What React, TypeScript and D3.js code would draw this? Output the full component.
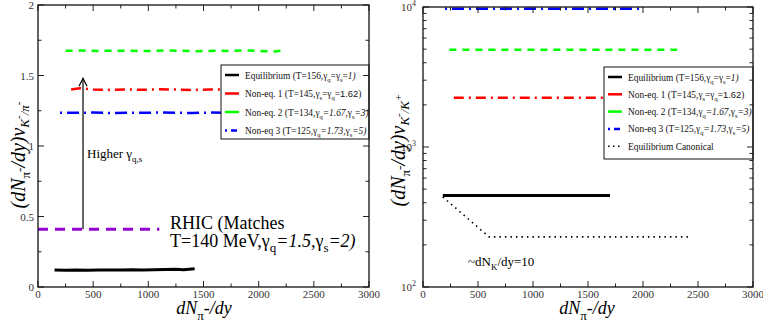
import React from 'react';
import * as d3 from 'd3';

const SERIF = '"Liberation Serif", "DejaVu Serif", serif';
const SANS = '"Liberation Sans", Arial, sans-serif';

// left panel: (dN/dy) * nu_{K-/pi-}
const eqLx = [150, 250, 350, 450, 550, 650, 750, 850, 950, 1050, 1150, 1250, 1320, 1420];
const eqLy = [0.121, 0.119, 0.12, 0.119, 0.121, 0.12, 0.121, 0.122, 0.121, 0.123, 0.124, 0.125, 0.123, 0.129];
const neq1Lx = [300, 380, 500, 650, 800, 950, 1100, 1250, 1400, 1550, 1700, 1850, 2000];
const neq1Ly = [1.4, 1.41, 1.4, 1.398, 1.401, 1.399, 1.402, 1.4, 1.397, 1.401, 1.4, 1.399, 1.4];
const neq2Lx = [250, 400, 550, 700, 850, 1000, 1150, 1300, 1450, 1600, 1750, 1900, 2050, 2150, 2250];
const neq2Ly = [1.675, 1.677, 1.674, 1.676, 1.675, 1.673, 1.677, 1.675, 1.672, 1.676, 1.674, 1.678, 1.672, 1.67, 1.68];
const neq3Lx = [200, 350, 500, 650, 800, 950, 1100, 1250, 1400, 1550, 1700, 1850, 2000];
const neq3Ly = [1.236, 1.235, 1.237, 1.234, 1.236, 1.235, 1.238, 1.236, 1.234, 1.237, 1.235, 1.236, 1.235];
const rhicX = [0, 1100];
const rhicY = [0.41, 0.41];
const arrowX = [408, 408];
const arrowY = [0.41, 1.48];

// right panel: (dN/dy) * nu_{K-/K+}
const eqRx = [180, 1700];
const eqRy = [450, 450];
const neq1Rx = [280, 2000];
const neq1Ry = [2250, 2250];
const neq2Rx = [240, 2310];
const neq2Ry = [4950, 4950];
const neq3Rx = [200, 2000];
const neq3Ry = [9700, 9700];
const canonRx = [180, 600, 2430];
const canonRy = [440, 228, 228];

const xMajor = [0, 500, 1000, 1500, 2000, 2500, 3000];
const xMinor = [250, 750, 1250, 1750, 2250, 2750];
const yLMajor = [0, 0.5, 1, 1.5, 2];
const yLLabels = ['0', '0.5', '1', '1.5', '2'];
const yLMinor = [0.25, 0.75, 1.25, 1.75];
const yRMajor = [100, 1000, 10000];
const yRExp = ['2', '3', '4'];

const xL = d3.scaleLinear().domain([0, 3000]).range([38, 369]);
const yL = d3.scaleLinear().domain([0, 2]).range([287, 5]);
const xR = d3.scaleLinear().domain([0, 3000]).range([423, 753]);
const yR = d3.scaleLog().domain([100, 10000]).range([287, 7]);
const yRMinor = yR.ticks().filter(v => !yRMajor.includes(v));

const path = (xs: number[], ys: number[], x: any, y: any) =>
  d3.line<number>().x((_, i) => x(xs[i])).y((_, i) => y(ys[i]))(xs) || '';

// segments: [text, kind] where kind: '' normal, 's' subscript, 'i' italic, 'f' sans
type Seg = [string, string?];
const Rich = ({ segs, sub = 7, d = 3 }: { segs: Seg[]; sub?: number; d?: number }) => (
  <>
    {segs.map(([t, k], i) => {
      const prevSub = i > 0 && segs[i - 1][1] === 's';
      const isSub = k === 's';
      const dy = (isSub ? d : 0) - (prevSub ? d : 0);
      return (
        <tspan key={i} dy={dy || undefined} fontSize={isSub ? sub : undefined}
          fontStyle={k === 'i' ? 'italic' : undefined} fontFamily={k === 'f' ? SANS : undefined}>{t}</tspan>
      );
    })}
  </>
);

const Frame = ({ x, y, yMaj, yMin }: any) => {
  const [x0, x1] = x.range();
  const [y0, y1] = y.range();
  const t: JSX.Element[] = [];
  const add = (k: string, a: number, b: number, c: number, d: number) =>
    t.push(<line key={k} x1={a} y1={b} x2={c} y2={d} stroke="#222" strokeWidth={1} />);
  xMajor.forEach(v => { add('xb' + v, x(v), y0, x(v), y0 - 6); add('xt' + v, x(v), y1, x(v), y1 + 6); });
  xMinor.forEach(v => { add('mb' + v, x(v), y0, x(v), y0 - 3.5); add('mt' + v, x(v), y1, x(v), y1 + 3.5); });
  yMaj.forEach((v: number) => { add('yl' + v, x0, y(v), x0 + 6, y(v)); add('yr' + v, x1, y(v), x1 - 6, y(v)); });
  yMin.forEach((v: number) => { add('ml' + v, x0, y(v), x0 + 3.5, y(v)); add('mr' + v, x1, y(v), x1 - 3.5, y(v)); });
  return (
    <g>
      {t}
      <rect x={x0} y={y1} width={x1 - x0} height={y0 - y1} fill="none" stroke="#111" strokeWidth={1.3} />
      {xMajor.map(v => (
        <text key={v} x={x(v)} y={297.5} textAnchor="middle" fontSize={11} fontFamily={SERIF} fill="#333">{v}</text>
      ))}
    </g>
  );
};

const legendRows: { color: string; dash: string; width?: number; segs: Seg[] }[] = [
  { color: '#000', dash: '', segs: [['Equilibrium (T=156,γ'], ['q', 's'], ['=γ'], ['s', 's'], ['='], ['1)', 'i']] },
  { color: '#f00', dash: '', segs: [['Non-eq. 1 (T=145,γ'], ['s', 's'], ['=γ'], ['q', 's'], ['='], ['1.62', 'f'], [')']] },
  { color: '#0f0', dash: '', segs: [['Non-eq. 2 (T=134,γ'], ['q', 's'], ['=1.67,', 'i'], ['γ'], ['s', 's'], ['=3)', 'i']] },
  { color: '#00f', dash: '2,4,6,2', segs: [['Non-eq 3 (T=125,γ'], ['q', 's'], ['=1.73,', 'i'], ['γ'], ['s', 's'], ['=5)', 'i']] },
];

const Legend = ({ x, y, w, h, rows, step }: any) => (
  <g>
    <rect x={x} y={y} width={w} height={h} fill="#fff" stroke="#111" strokeWidth={1} />
    {rows.map((r: any, i: number) => (
      <g key={i}>
        <line x1={x + 4} x2={x + 18} y1={y + 10 + i * step} y2={y + 10 + i * step}
          stroke={r.color} strokeWidth={r.width || 2.5} strokeDasharray={r.dash} />
        <text x={x + 24} y={y + 13.5 + i * step} fontSize={9.4} fontFamily={SERIF} fill="#111">
          <Rich segs={r.segs} sub={6.5} />
        </text>
      </g>
    ))}
  </g>
);

const YTitle = ({ x, y, den, sign }: any) => (
  <text transform={`translate(${x},${y}) rotate(-90)`} textAnchor="middle" fontSize={20}
    fontFamily={SERIF} fontStyle="italic">
    (dN<tspan dy={5} fontSize={13} fontStyle="normal">π</tspan>
    <tspan dy={-6} fontSize={13}>-</tspan>
    <tspan dy={1}>/dy)ν</tspan>
    <tspan dy={4} fontSize={13}>K</tspan>
    <tspan dy={-7} fontSize={11}>-</tspan>
    <tspan dy={7} fontSize={13}>/{den}</tspan>
    <tspan dy={-7} fontSize={11}>{sign}</tspan>
  </text>
);

const XTitle = ({ x }: any) => (
  <text x={x} y={313.5} textAnchor="middle" fontSize={18} fontFamily={SERIF} fontStyle="italic">
    dN<tspan dy={6} fontSize={13} fontStyle="normal">π</tspan>
    <tspan dy={-6}>-/dy</tspan>
  </text>
);

const App = () => {
  return (
    <svg width={763} height={328} style={{ position: 'absolute', left: 0, top: 0, background: '#fff' }}>
      {/* left panel */}
      <path d={path(rhicX, rhicY, xL, yL)} fill="none" stroke="#9400d3" strokeWidth={3} strokeDasharray="10,7" />
      <path d={path(eqLx, eqLy, xL, yL)} fill="none" stroke="#000" strokeWidth={3} />
      <path d={path(neq2Lx, neq2Ly, xL, yL)} fill="none" stroke="#0f0" strokeWidth={2.5} strokeDasharray="7,6" />
      <path d={path(neq1Lx, neq1Ly, xL, yL)} fill="none" stroke="#f00" strokeWidth={2.5} strokeDasharray="10,5,2,5" />
      <path d={path(neq3Lx, neq3Ly, xL, yL)} fill="none" stroke="#00f" strokeWidth={2.5} strokeDasharray="2,5,12,5" />
      <path d={path(arrowX, arrowY, xL, yL)} fill="none" stroke="#000" strokeWidth={1.2} />
      <path d={`M${xL(arrowX[1]) - 4},${yL(arrowY[1]) + 8} L${xL(arrowX[1])},${yL(arrowY[1])} L${xL(arrowX[1]) + 4},${yL(arrowY[1]) + 8}`}
        fill="none" stroke="#000" strokeWidth={1.2} />
      <text x={87} y={158} fontSize={13} fontFamily={SERIF}>
        <Rich segs={[['Higher γ'], ['q,s', 's']]} sub={9} d={4} />
      </text>
      <text x={170} y={229} fontSize={18} fontFamily={SERIF}>RHIC (Matches</text>
      <text x={170} y={247} fontSize={18} fontFamily={SERIF}>
        <Rich segs={[['T=140 MeV,γ'], ['q', 's'], ['=1.5,', 'i'], ['γ'], ['s', 's'], ['=2)', 'i']]} sub={13} d={5} />
      </text>
      <Legend x={221} y={65} w={148} h={74} rows={legendRows} step={18.5} />
      <Frame x={xL} y={yL} yMaj={yLMajor} yMin={yLMinor} />
      {yLMajor.map((v, i) => (
        <text key={v} x={34} y={yL(v) + 4} textAnchor="end" fontSize={11} fontFamily={SERIF} fill="#333">{yLLabels[i]}</text>
      ))}
      <YTitle x={25} y={155} den="π" sign="-" />
      <XTitle x={204} />

      {/* right panel */}
      <path d={path(neq3Rx, neq3Ry, xR, yR)} fill="none" stroke="#00f" strokeWidth={2.5} strokeDasharray="2,5,12,5" />
      <path d={path(neq2Rx, neq2Ry, xR, yR)} fill="none" stroke="#0f0" strokeWidth={2.5} strokeDasharray="7,6" />
      <path d={path(neq1Rx, neq1Ry, xR, yR)} fill="none" stroke="#f00" strokeWidth={2.5} strokeDasharray="10,5,2,5" />
      <path d={path(eqRx, eqRy, xR, yR)} fill="none" stroke="#000" strokeWidth={3} />
      <path d={path(canonRx, canonRy, xR, yR)} fill="none" stroke="#000" strokeWidth={1.6} strokeDasharray="1.5,4" />
      <text x={468} y={266} fontSize={13} fontFamily={SERIF}>
        <Rich segs={[['~dN'], ['K', 's'], ['/dy=10']]} sub={9} d={4} />
      </text>
      <Legend x={604} y={67} w={149} h={92} step={17.3}
        rows={[...legendRows, { color: '#000', dash: '1.5,3.5', width: 1.6, segs: [['Equilibrium Canonical']] }]} />
      <Frame x={xR} y={yR} yMaj={yRMajor} yMin={yRMinor} />
      {yRMajor.map((v, i) => (
        <text key={v} x={416} y={yR(v) + 4} textAnchor="end" fontSize={11} fontFamily={SERIF} fill="#333">
          10<tspan dy={-5} fontSize={8}>{yRExp[i]}</tspan>
        </text>
      ))}
      <YTitle x={405} y={150} den="K" sign="+" />
      <XTitle x={587} />
    </svg>
  );
};

export default App;
